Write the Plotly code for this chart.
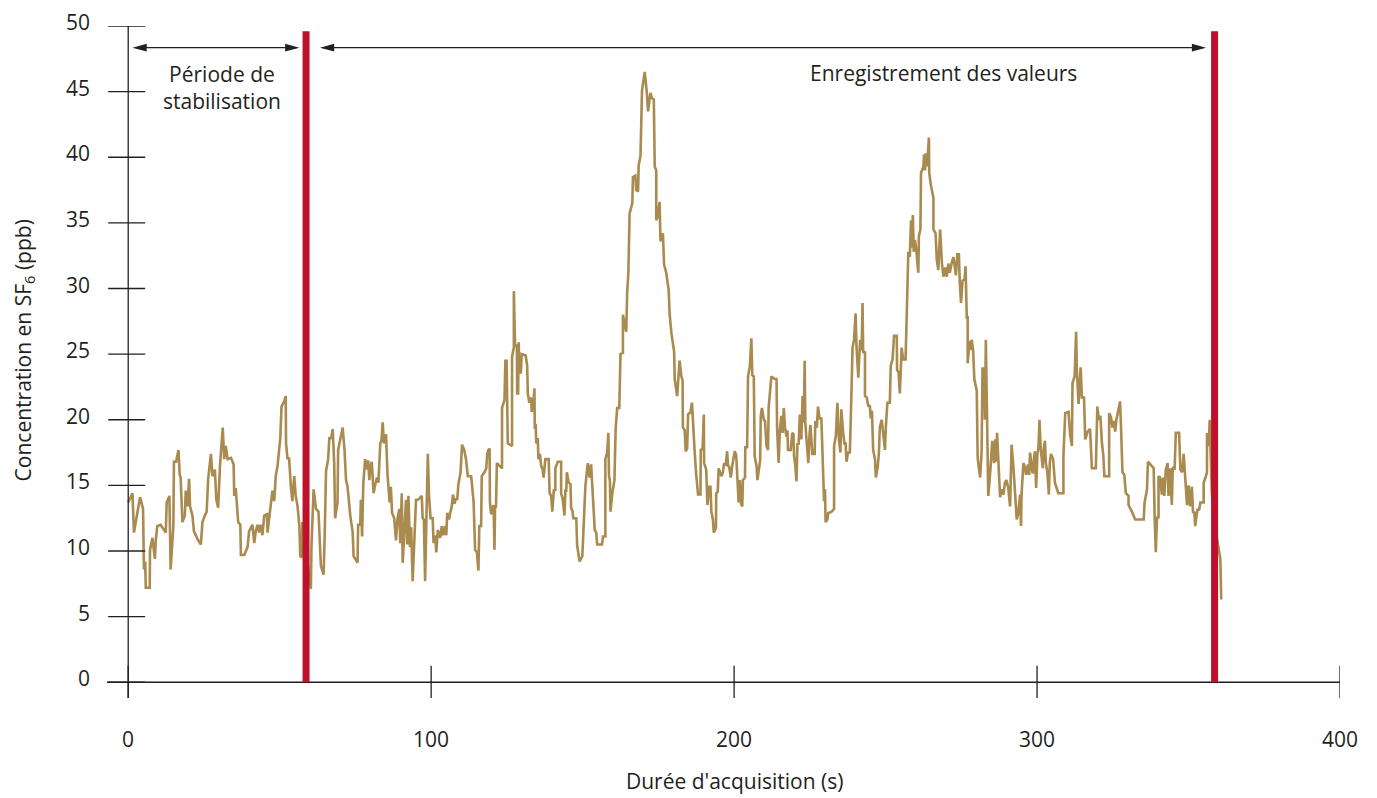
import plotly.graph_objects as go

# ---- data ----
time_s = [
    0, 1.4, 1.9, 3.9, 4.9, 5.2, 5.6, 5.8, 7.1, 7.2, 8.0, 8.8, 9.1, 9.6, 10.7, 12.4, 12.7, 13.6, 14.0, 14.9,
    15.1, 15.8, 16.6, 17.0, 17.3, 17.9, 18.7, 19.0, 19.6, 20.1, 20.4, 21.2, 21.7, 22.9, 24.0, 24.5, 25.3, 25.9, 26.4, 27.3,
    27.8, 28.6, 29.1, 29.7, 30.3, 31.2, 31.7, 32.2, 32.8, 33.9, 34.8, 35.0, 35.5, 36.1, 36.3, 37.0, 37.2, 38.3, 39.4, 39.9,
    41.0, 41.6, 42.1, 42.7, 43.2, 43.7, 44.3, 44.9, 45.8, 46.0, 46.6, 47.1, 47.6, 48.2, 48.7, 49.3, 50.2, 50.6, 51.5, 52.0,
    52.1, 52.6, 53.1, 53.7, 54.2, 54.8, 55.3, 55.9, 56.5, 56.8, 57.3, 57.5, 58.5, 60.3, 60.5, 61.2, 62.0, 62.8, 63.6, 64.5,
    64.9, 65.3, 66.0, 66.4, 67.0, 67.5, 68.0, 68.3, 69.1, 69.3, 70.0, 70.8, 71.4, 71.9, 72.4, 73.3, 74.1, 74.4, 75.2, 75.7,
    75.9, 76.6, 76.8, 77.2, 77.6, 78.2, 78.7, 79.2, 79.6, 79.9, 80.4, 81.0, 81.4, 82.1, 82.6, 83.2, 83.6, 84.0, 84.4, 85.1,
    85.6, 85.9, 86.3, 86.7, 87.1, 87.8, 88.4, 88.9, 89.5, 89.8, 90.3, 90.6, 91.1, 91.7, 92.1, 92.5, 93.0, 93.4, 93.9, 94.4,
    95.0, 95.7, 96.9, 97.2, 97.6, 98.0, 98.4, 98.9, 99.3, 99.8, 100.5, 100.8, 101.3, 101.7, 102.2, 103.0, 103.5, 104.0, 104.6, 105.0,
    105.3, 105.9, 106.3, 106.8, 107.2, 107.7, 108.2, 108.6, 109.0, 109.7, 110.2, 110.9, 111.5, 112.1, 113.2, 113.7, 114.0, 114.5, 115.1, 115.6,
    115.9, 116.5, 116.7, 117.6, 118.2, 118.5, 118.9, 119.3, 119.4, 119.8, 120.6, 120.9, 121.1, 121.4, 121.7, 122.5, 123.4, 123.4, 124.2, 124.5,
    124.9, 125.3, 125.9, 126.7, 126.7, 127.3, 127.3, 127.7, 128.3, 128.4, 128.7, 128.9, 129.1, 129.6, 129.9, 131.2, 131.7, 131.9, 132.4, 133.0,
    133.2, 133.8, 134.1, 134.2, 134.5, 134.7, 135.2, 135.4, 135.9, 136.3, 136.8, 137.1, 137.7, 138.8, 139.1, 139.6, 140.0, 140.5, 141.0, 141.0,
    141.8, 142.9, 142.9, 143.4, 144.0, 144.3, 144.6, 144.8, 145.4, 146.0, 146.2, 146.7, 146.9, 147.9, 148.2, 149.0, 149.9, 150.4, 150.9, 151.7,
    152.3, 152.8, 153.4, 154.0, 154.5, 154.8, 156.4, 156.7, 157.5, 157.5, 158.1, 158.5, 158.7, 159.0, 159.2, 159.8, 160.5, 160.9, 161.4, 162.1,
    162.5, 163.3, 163.3, 163.9, 164.4, 164.7, 165.1, 165.5, 166.4, 166.6, 167.4, 167.7, 168.3, 168.5, 169.1, 169.6, 170.5, 171.2, 171.6, 172.2,
    172.4, 172.9, 173.5, 173.8, 174.3, 174.3, 174.8, 175.4, 175.7, 176.5, 176.9, 177.6, 178.4, 178.7, 179.3, 180.2, 180.4, 181.2, 182.0, 182.6,
    183.0, 183.1, 183.7, 184.0, 184.5, 184.8, 185.6, 186.1, 186.4, 187.0, 187.5, 188.1, 188.9, 189.0, 189.6, 190.0, 190.1, 190.8, 191.2, 191.7,
    192.2, 192.5, 193.0, 193.3, 194.0, 194.1, 194.6, 194.9, 195.8, 196.3, 196.7, 197.2, 197.7, 198.0, 198.4, 198.9, 199.4, 200.2, 200.7, 201.5,
    201.9, 202.3, 202.7, 202.9, 203.6, 203.7, 204.3, 204.6, 205.2, 205.7, 206.0, 206.5, 206.8, 207.4, 207.7, 208.4, 208.6, 208.8, 209.2, 209.8,
    210.2, 210.7, 211.2, 211.4, 212.3, 213.4, 214.0, 214.2, 214.7, 215.1, 215.6, 216.0, 216.4, 216.8, 217.3, 217.6, 217.8, 218.7, 219.2, 219.6,
    219.8, 220.2, 220.6, 220.9, 221.3, 221.7, 222.2, 222.6, 223.0, 223.3, 223.5, 223.9, 224.5, 224.9, 225.2, 225.8, 226.6, 226.8, 227.3, 227.7,
    228.2, 228.8, 229.1, 229.4, 229.7, 230.0, 230.2, 230.8, 231.1, 232.2, 233.0, 233.0, 233.6, 234.1, 234.6, 235.1, 235.4, 236.0, 236.4, 236.8,
    237.1, 237.6, 238.2, 238.5, 239.1, 239.6, 240.1, 240.4, 241.0, 241.6, 242.1, 242.4, 242.6, 243.2, 243.2, 243.8, 244.3, 244.8, 245.1, 245.5,
    245.9, 246.5, 246.8, 247.4, 247.8, 248.1, 248.7, 249.1, 249.6, 249.8, 250.1, 250.6, 251.4, 251.7, 252.3, 252.8, 253.7, 253.8, 254.3, 254.7,
    255.0, 255.3, 255.8, 256.6, 257.0, 257.3, 257.5, 258.0, 258.4, 258.6, 259.0, 259.3, 259.7, 260.2, 260.8, 261.0, 261.5, 261.7, 262.5, 262.7,
    263.0, 263.2, 263.6, 264.0, 264.3, 264.4, 265.0, 265.8, 265.8, 266.5, 266.9, 267.4, 268.0, 268.6, 269.1, 269.7, 270.2, 270.7, 271.2, 271.8,
    272.4, 272.9, 273.2, 273.7, 274.2, 274.5, 274.9, 275.4, 276.1, 276.4, 276.8, 277.1, 277.1, 277.7, 278.1, 278.4, 278.9, 279.3, 280.1, 280.4,
    281.2, 281.7, 282.0, 282.5, 282.8, 283.1, 283.6, 283.9, 284.6, 285.2, 285.8, 286.2, 286.5, 286.8, 287.8, 288.3, 288.9, 289.4, 289.9, 290.5,
    291.1, 291.6, 292.2, 292.7, 293.3, 293.8, 294.4, 294.7, 294.9, 295.5, 296.0, 296.4, 297.0, 297.4, 297.7, 298.3, 298.6, 299.0, 299.3, 299.7,
    300.1, 300.5, 300.8, 301.2, 301.5, 301.9, 302.2, 302.6, 302.9, 303.4, 303.9, 304.2, 304.6, 305.3, 305.9, 306.4, 307.0, 308.7, 308.7, 309.3,
    310.4, 310.9, 311.5, 311.7, 312.4, 312.9, 313.1, 313.7, 314.0, 314.4, 314.8, 315.5, 315.9, 316.7, 317.5, 318.1, 319.4, 319.9, 320.4, 320.9,
    321.4, 321.9, 322.2, 323.8, 323.8, 324.4, 324.9, 325.3, 325.8, 326.2, 326.9, 327.4, 327.7, 328.2, 328.8, 329.3, 330.2, 330.2, 331.3, 332.4,
    335.2, 335.5, 336.3, 336.6, 337.4, 338.5, 338.8, 339.2, 339.6, 340.1, 340.1, 340.6, 341.2, 341.6, 342.0, 342.5, 343.1, 343.4, 343.9, 344.5,
    344.8, 345.4, 345.8, 346.9, 347.3, 347.9, 348.4, 349.0, 349.5, 350.0, 350.5, 351.1, 351.5, 351.9, 352.2, 352.6, 353.0, 353.5, 353.9, 355.0,
    355.0, 355.6, 356.1, 356.1, 356.6, 357.0, 357.4, 357.7, 359.0, 360.5, 360.8,
]
conc_ppb = [
    13.7, 14.4, 11.4, 14.1, 13.2, 8.6, 9.2, 7.2, 7.2, 10.1, 11.0, 9.4, 10.8, 11.9, 12.0, 11.4, 13.7, 14.2, 8.6, 11.9,
    16.8, 16.8, 17.7, 15.8, 15.6, 12.2, 12.7, 14.6, 13.4, 15.5, 13.4, 12.7, 11.5, 10.9, 10.5, 12.2, 12.7, 13.0, 15.5, 17.4,
    15.7, 16.2, 13.9, 13.3, 16.5, 19.4, 17.0, 18.0, 17.0, 17.1, 16.6, 14.2, 14.8, 12.9, 12.2, 12.0, 9.7, 9.7, 10.3, 11.5,
    12.0, 10.6, 11.5, 12.0, 11.4, 12.0, 11.2, 12.7, 12.8, 11.4, 12.7, 13.7, 14.6, 13.8, 15.7, 16.5, 18.6, 21.0, 21.4, 21.8,
    18.2, 17.0, 17.1, 14.9, 13.8, 15.7, 14.2, 13.4, 11.9, 9.6, 9.5, 12.2, 10.5, 7.1, 10.4, 14.7, 13.2, 13.0, 8.9, 8.2,
    11.6, 16.1, 17.0, 18.6, 18.6, 19.3, 16.7, 12.5, 13.7, 17.7, 18.5, 19.4, 17.7, 15.4, 14.9, 12.7, 11.4, 9.6, 9.3, 9.1,
    12.0, 12.0, 13.9, 11.1, 15.1, 17.0, 16.2, 16.9, 15.4, 16.4, 16.8, 14.4, 14.9, 15.6, 15.2, 18.2, 18.4, 19.8, 18.2, 18.9,
    15.8, 14.9, 13.7, 14.9, 12.9, 12.5, 10.8, 12.5, 13.2, 10.6, 14.4, 9.1, 11.1, 13.9, 10.5, 14.2, 10.3, 11.8, 7.7, 10.4,
    13.9, 13.9, 14.2, 12.5, 12.4, 7.7, 12.7, 17.4, 14.2, 12.5, 12.5, 10.6, 11.2, 9.9, 11.6, 11.0, 11.9, 11.2, 11.9, 11.2,
    12.9, 12.4, 12.9, 13.4, 14.3, 13.6, 14.0, 13.9, 15.1, 16.0, 18.1, 17.7, 17.0, 15.7, 15.7, 14.2, 13.8, 10.1, 9.9, 8.5,
    11.9, 11.9, 15.7, 16.0, 16.3, 17.4, 17.7, 17.8, 13.7, 12.8, 13.5, 10.1, 13.4, 13.3, 16.7, 16.5, 16.3, 20.9, 21.5, 24.5,
    24.5, 18.2, 18.1, 18.0, 24.8, 25.5, 29.8, 25.6, 25.7, 22.0, 22.0, 25.9, 23.6, 23.6, 25.0, 24.9, 24.1, 22.0, 21.3, 21.7,
    20.6, 21.4, 22.4, 19.3, 19.7, 18.2, 18.6, 17.0, 17.4, 16.5, 16.2, 15.6, 17.0, 17.0, 14.4, 14.2, 13.0, 14.7, 14.6, 16.3,
    16.8, 16.8, 14.4, 14.0, 12.7, 14.6, 14.6, 16.0, 15.2, 15.1, 13.3, 13.0, 12.5, 12.5, 10.4, 9.2, 9.6, 12.0, 14.9, 16.7,
    15.6, 16.6, 14.4, 11.6, 11.4, 10.5, 10.5, 11.1, 11.1, 17.0, 17.5, 19.0, 15.7, 15.4, 13.0, 14.4, 15.4, 19.3, 20.9, 20.9,
    25.0, 25.1, 28.0, 27.4, 26.7, 29.7, 31.2, 35.7, 36.5, 38.5, 38.6, 37.5, 37.4, 39.4, 40.1, 45.1, 46.5, 44.9, 43.5, 44.6,
    44.9, 44.5, 44.4, 39.3, 39.0, 35.2, 35.5, 36.6, 33.6, 34.2, 31.8, 31.2, 29.9, 28.1, 26.6, 25.2, 23.1, 21.8, 24.5, 23.3,
    23.0, 19.4, 19.2, 17.6, 17.8, 20.4, 20.6, 21.3, 19.8, 17.5, 15.8, 14.3, 14.3, 17.7, 17.8, 20.4, 16.7, 16.2, 13.5, 14.9,
    14.9, 13.0, 12.4, 11.4, 11.8, 14.4, 14.5, 16.3, 15.7, 16.0, 16.7, 16.5, 17.6, 16.5, 16.4, 15.6, 16.5, 17.6, 17.3, 13.7,
    15.4, 13.6, 13.4, 15.4, 15.6, 17.9, 17.9, 23.3, 24.1, 26.2, 23.4, 23.3, 17.2, 16.5, 15.4, 16.8, 16.9, 20.3, 20.9, 20.0,
    19.9, 18.0, 17.7, 20.9, 23.3, 23.1, 23.1, 19.3, 16.7, 19.2, 20.3, 19.0, 20.9, 19.4, 18.7, 19.2, 17.7, 17.7, 19.0, 18.9,
    17.2, 16.5, 15.3, 18.2, 18.1, 20.4, 18.5, 21.8, 19.8, 24.5, 19.8, 18.5, 16.7, 18.9, 19.6, 17.4, 17.4, 19.9, 19.4, 21.0,
    20.1, 20.1, 17.5, 14.7, 13.8, 14.7, 12.2, 12.4, 12.9, 13.0, 13.2, 18.0, 18.8, 21.3, 18.5, 17.5, 20.8, 19.0, 18.2, 18.2,
    16.8, 17.5, 17.5, 19.9, 25.5, 26.1, 28.1, 25.6, 23.2, 26.1, 25.3, 28.9, 25.1, 25.2, 21.8, 21.7, 21.0, 21.1, 20.1, 20.7,
    17.7, 17.0, 15.6, 16.4, 17.5, 19.4, 20.0, 19.2, 18.1, 17.7, 19.5, 21.3, 21.3, 24.1, 24.6, 26.4, 26.4, 23.8, 23.6, 22.0,
    23.6, 25.5, 24.6, 24.6, 28.1, 32.4, 32.8, 32.4, 35.2, 33.1, 35.6, 32.8, 33.7, 32.8, 31.2, 34.0, 34.5, 38.8, 39.3, 40.2,
    39.0, 40.3, 39.3, 40.4, 41.5, 38.8, 37.8, 36.9, 34.5, 34.2, 32.2, 31.4, 34.5, 31.9, 30.9, 31.6, 30.9, 31.9, 31.2, 31.9,
    32.4, 31.6, 31.0, 32.6, 32.6, 30.4, 28.9, 30.6, 30.7, 31.7, 27.8, 27.8, 24.3, 26.0, 25.3, 26.1, 25.3, 23.1, 22.2, 17.1,
    15.6, 17.5, 23.9, 23.9, 20.0, 26.1, 20.0, 14.2, 16.2, 18.4, 16.7, 18.5, 16.8, 19.0, 14.1, 14.7, 14.3, 15.2, 15.4, 14.8,
    13.4, 18.1, 16.4, 14.1, 12.4, 12.9, 14.3, 11.9, 14.4, 16.7, 16.4, 15.8, 16.6, 15.8, 17.5, 16.2, 15.9, 17.1, 17.6, 14.8,
    17.3, 18.0, 20.0, 17.8, 17.2, 16.3, 17.8, 18.4, 16.7, 16.0, 14.3, 16.7, 17.4, 17.0, 15.2, 14.8, 14.4, 14.4, 17.2, 20.5,
    20.6, 18.9, 18.0, 22.8, 23.3, 26.7, 24.0, 21.2, 23.0, 24.0, 21.7, 21.7, 18.5, 19.1, 19.3, 16.3, 16.3, 21.0, 20.0, 20.3,
    18.3, 17.2, 15.7, 15.7, 20.5, 20.2, 19.4, 19.9, 19.1, 20.0, 20.8, 21.4, 19.5, 16.0, 15.8, 14.4, 14.2, 13.5, 13.0, 12.4,
    12.4, 13.7, 14.7, 16.8, 16.6, 16.3, 12.7, 9.9, 12.6, 12.5, 15.7, 15.6, 14.3, 15.6, 14.2, 16.2, 16.7, 14.2, 16.3, 13.5,
    16.4, 16.2, 19.0, 19.0, 16.2, 16.0, 17.4, 15.2, 13.5, 15.0, 13.4, 14.9, 12.9, 13.0, 11.9, 12.6, 13.2, 13.1, 13.7, 13.7,
    15.2, 15.6, 16.0, 19.0, 18.0, 20.0, 16.5, 14.4, 11.5, 9.4, 6.3,
]

x_ticks = [0, 100, 200, 300, 400]
y_ticks = [0, 5, 10, 15, 20, 25, 30, 35, 40, 45, 50]
phase_bounds = [58.7, 358.6]          # red markers (s)
phase_labels = ["Période de<br>stabilisation", "Enregistrement des valeurs"]

x_title = "Durée d'acquisition (s)"
y_title = "Concentration en SF<sub>6</sub> (ppb)"

# ---- styles ----
FONT = "Open Sans, Noto Sans, sans-serif"
FS = 21
TXT = "#231f20"
LINE_COL = "#a98a4f"
RED = "#c0112b"
X_RANGE = [-7, 400]
Y_RANGE = [-1.2, 50]
HEAD_LEN = 4.7      # arrowhead length (x units)
HEAD_HALF = 0.3     # arrowhead half-height (y units)

fig = go.Figure()
fig.add_trace(go.Scatter(x=time_s, y=conc_ppb, mode="lines",
                         line=dict(color=LINE_COL, width=2.6), hoverinfo="skip",
                         showlegend=False))

shapes = []
# axis lines
shapes.append(dict(type="line", xref="x", yref="y", x0=X_RANGE[0], x1=x_ticks[-1], y0=0, y1=0,
                   line=dict(color=TXT, width=1.3)))
shapes.append(dict(type="line", xref="x", yref="y", x0=0, x1=0, y0=Y_RANGE[0], y1=y_ticks[-1],
                   line=dict(color=TXT, width=1.3)))
# crossing ticks
for yv in y_ticks:
    shapes.append(dict(type="line", xref="x", yref="y", x0=-6.6, x1=5.6, y0=yv, y1=yv,
                       line=dict(color=TXT, width=1.3)))
for xv in x_ticks:
    shapes.append(dict(type="line", xref="x", yref="y", x0=xv, x1=xv, y0=-1.2, y1=1.25,
                       line=dict(color=TXT, width=1.3)))
# red phase markers
for xb in phase_bounds:
    shapes.append(dict(type="line", xref="x", yref="y", x0=xb, x1=xb, y0=0, y1=49.6,
                       line=dict(color=RED, width=7), layer="above"))

# double-headed arrows for the two phases
arrow_y = 48.35
arrow_spans = [(1.4, phase_bounds[0] - 2.2), (phase_bounds[0] + 4.6, phase_bounds[1] - 2.8)]
for a, b in arrow_spans:
    shapes.append(dict(type="line", xref="x", yref="y", x0=a + 1, x1=b - 1, y0=arrow_y, y1=arrow_y,
                       line=dict(color=TXT, width=1.2)))
    shapes.append(dict(type="path", xref="x", yref="y",
                       path=f"M {a},{arrow_y} L {a + HEAD_LEN},{arrow_y + HEAD_HALF} "
                            f"L {a + HEAD_LEN},{arrow_y - HEAD_HALF} Z",
                       fillcolor=TXT, line=dict(width=0)))
    shapes.append(dict(type="path", xref="x", yref="y",
                       path=f"M {b},{arrow_y} L {b - HEAD_LEN},{arrow_y + HEAD_HALF} "
                            f"L {b - HEAD_LEN},{arrow_y - HEAD_HALF} Z",
                       fillcolor=TXT, line=dict(width=0)))

annotations = []
for yv in y_ticks:
    annotations.append(dict(x=0, y=yv, xref="x", yref="y", text=str(yv), showarrow=False,
                            xanchor="right", yanchor="middle", xshift=-36, yshift=4,
                            font=dict(family=FONT, size=FS, color=TXT)))
for xv in x_ticks:
    annotations.append(dict(x=xv, y=0, xref="x", yref="y", text=str(xv), showarrow=False,
                            xanchor="center", yanchor="middle", yshift=-57,
                            font=dict(family=FONT, size=FS, color=TXT)))
annotations.append(dict(x=200, y=0, xref="x", yref="y", text=x_title, showarrow=False,
                        xanchor="center", yanchor="middle", yshift=-99,
                        font=dict(family=FONT, size=FS, color=TXT)))
annotations.append(dict(x=0, y=25.3, xref="x", yref="y", text=y_title, showarrow=False,
                        textangle=-90, xanchor="center", yanchor="middle", xshift=-104,
                        font=dict(family=FONT, size=FS, color=TXT)))
annotations.append(dict(x=30.8, y=45.3, xref="x", yref="y",
                        text=phase_labels[0], showarrow=False, xanchor="center", yanchor="middle",
                        font=dict(family=FONT, size=FS, color=TXT)))
annotations.append(dict(x=269, y=46.4, xref="x", yref="y",
                        text=phase_labels[1], showarrow=False, xanchor="center", yanchor="middle",
                        font=dict(family=FONT, size=FS, color=TXT)))

# the page body has an 8px margin: the figure is placed so that it fills the 1377x798 window
fig.update_layout(
    width=1359, height=790,
    margin=dict(l=99, r=27, t=18, b=100),
    paper_bgcolor="white", plot_bgcolor="white",
    xaxis=dict(range=X_RANGE, visible=False, fixedrange=True),
    yaxis=dict(range=Y_RANGE, visible=False, fixedrange=True),
    shapes=shapes, annotations=annotations,
    showlegend=False,
)

fig.write_html("out.html")
